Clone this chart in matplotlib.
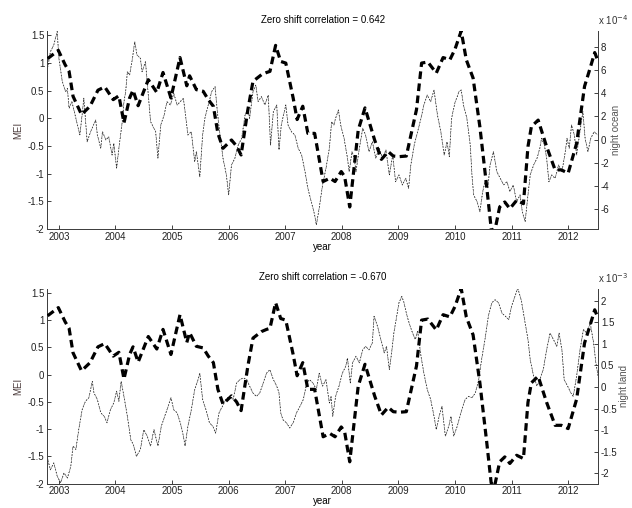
import matplotlib
matplotlib.use("Agg")
import matplotlib.pyplot as plt
from matplotlib.ticker import FormatStrFormatter, FuncFormatter
import numpy as np

plt.rcParams['font.family'] = ['Liberation Sans', 'DejaVu Sans']
plt.rcParams['font.size'] = 7

# MEI index (left axis, same in both panels)
mei_t = [2002.80, 2002.99, 2003.11, 2003.18, 2003.25, 2003.40, 2003.55, 2003.69,
         2003.81, 2003.96, 2004.06, 2004.15, 2004.25, 2004.31, 2004.40, 2004.58,
         2004.73, 2004.84, 2004.98, 2005.14, 2005.26, 2005.31, 2005.43, 2005.55,
         2005.64, 2005.73, 2005.81, 2005.90, 2006.05, 2006.14, 2006.22, 2006.34,
         2006.43, 2006.58, 2006.67, 2006.73, 2006.83, 2006.92, 2007.01, 2007.14,
         2007.21, 2007.31, 2007.40, 2007.52, 2007.67, 2007.79, 2007.88, 2007.99,
         2008.05, 2008.14, 2008.29, 2008.41, 2008.58, 2008.70, 2008.82, 2008.91,
         2009.02, 2009.14, 2009.32, 2009.41, 2009.52, 2009.67, 2009.79, 2009.91,
         2010.00, 2010.11, 2010.20, 2010.32, 2010.44, 2010.56, 2010.64, 2010.70,
         2010.79, 2010.88, 2010.97, 2011.09, 2011.21, 2011.29, 2011.35, 2011.47,
         2011.62, 2011.77, 2011.88, 2012.00, 2012.15, 2012.29, 2012.38, 2012.47,
         2012.53]
mei = [1.08, 1.23, 0.97, 0.85, 0.40, 0.07, 0.22, 0.51,
       0.57, 0.34, 0.41, -0.08, 0.37, 0.51, 0.23, 0.70,
       0.47, 0.83, 0.37, 1.10, 0.59, 0.77, 0.52, 0.49,
       0.34, 0.22, -0.27, -0.54, -0.39, -0.50, -0.66, 0.16,
       0.67, 0.79, 0.83, 0.85, 1.32, 1.03, 1.00, 0.37,
       -0.02, 0.22, -0.27, -0.27, -1.14, -1.08, -1.14, -0.96,
       -1.05, -1.60, -0.21, 0.19, -0.39, -0.74, -0.60, -0.68,
       -0.69, -0.68, 0.16, 1.00, 1.02, 0.82, 1.10, 1.06,
       1.25, 1.58, 1.06, 0.73, -0.15, -1.23, -1.99, -2.05,
       -1.60, -1.51, -1.63, -1.48, -1.54, -0.51, -0.15, -0.03,
       -0.51, -0.93, -0.93, -0.99, -0.45, 0.58, 0.88, 1.19,
       1.03]

# night ocean (units of 1e-4)
ocean_t = [2002.79, 2002.85, 2002.91, 2002.97, 2003.00, 2003.06, 2003.12, 2003.15,
           2003.18, 2003.23, 2003.30, 2003.37, 2003.41, 2003.44, 2003.50, 2003.56,
           2003.65, 2003.68, 2003.74, 2003.77, 2003.83, 2003.88, 2003.94, 2003.97,
           2004.02, 2004.06, 2004.12, 2004.15, 2004.18, 2004.21, 2004.25, 2004.30,
           2004.34, 2004.38, 2004.44, 2004.47, 2004.53, 2004.59, 2004.62, 2004.68,
           2004.71, 2004.75, 2004.80, 2004.86, 2004.91, 2004.97, 2005.03, 2005.09,
           2005.15, 2005.20, 2005.23, 2005.28, 2005.34, 2005.40, 2005.43, 2005.49,
           2005.54, 2005.58, 2005.64, 2005.70, 2005.76, 2005.80, 2005.84, 2005.90,
           2005.96, 2006.00, 2006.05, 2006.11, 2006.17, 2006.23, 2006.29, 2006.34,
           2006.37, 2006.43, 2006.48, 2006.52, 2006.58, 2006.64, 2006.70, 2006.74,
           2006.79, 2006.85, 2006.89, 2006.93, 2007.01, 2007.05, 2007.11, 2007.17,
           2007.23, 2007.29, 2007.35, 2007.40, 2007.46, 2007.52, 2007.55, 2007.60,
           2007.66, 2007.72, 2007.78, 2007.82, 2007.86, 2007.89, 2007.94, 2007.98,
           2008.04, 2008.10, 2008.13, 2008.18, 2008.22, 2008.25, 2008.31, 2008.37,
           2008.42, 2008.48, 2008.54, 2008.60, 2008.66, 2008.72, 2008.78, 2008.84,
           2008.90, 2008.95, 2009.01, 2009.07, 2009.13, 2009.18, 2009.22, 2009.28,
           2009.34, 2009.40, 2009.45, 2009.51, 2009.57, 2009.63, 2009.69, 2009.75,
           2009.81, 2009.86, 2009.90, 2009.94, 2010.00, 2010.04, 2010.07, 2010.11,
           2010.15, 2010.21, 2010.24, 2010.27, 2010.30, 2010.33, 2010.39, 2010.44,
           2010.49, 2010.53, 2010.58, 2010.62, 2010.68, 2010.74, 2010.80, 2010.86,
           2010.92, 2010.97, 2011.03, 2011.09, 2011.15, 2011.19, 2011.24, 2011.29,
           2011.33, 2011.39, 2011.45, 2011.50, 2011.53, 2011.58, 2011.62, 2011.66,
           2011.71, 2011.77, 2011.83, 2011.89, 2011.95, 2011.98, 2012.02, 2012.06,
           2012.11, 2012.15, 2012.21, 2012.26, 2012.30, 2012.35, 2012.40, 2012.46,
           2012.52]
ocean = [5.85, 7.57, 8.15, 9.3, 7.0, 5.0, 4.13, 4.4,
         2.70, 3.27, 1.84, 0.40, 2.12, 3.56, -0.18, 0.68,
         1.69, 0.40, -0.74, 0.68, -0.03, 0.25, -1.32, -0.31,
         -2.46, -0.74, 1.55, 3.27, 4.13, 5.85, 5.56, 7.0,
         8.43, 7.29, 7.0, 5.85, 6.71, 3.27, 1.55, 0.98,
         0.68, -1.6, 1.26, 2.12, 3.27, 2.98, 3.99, 2.98,
         3.3, 3.56, 2.41, 0.40, 0.68, -1.9, -1.04, -3.19,
         0.40, 1.84, 2.98, 4.13, 4.56, 2.41, 0.68, -1.6,
         -3.04, -4.76, -2.18, -1.6, -0.46, 0.11, 2.12, 2.70,
         1.84, 4.13, 4.70, 3.27, 3.70, 2.98, 3.84, -0.46,
         2.41, 2.98, -0.89, 1.26, 2.98, 1.26, 0.68, 0.40,
         -0.74, -1.32, -2.76, -4.19, -5.34, -6.48, -7.34, -5.91,
         -3.90, -2.47, -0.74, 1.55, 1.26, 1.84, 2.55, 1.26,
         0.11, -1.6, -2.76, -1.04, -1.6, -2.76, -0.74, 0.98,
         0.40, -1.04, -0.18, -1.6, -0.74, -1.6, -0.89, -3.04,
         -1.32, -3.62, -3.04, -3.90, -3.33, -4.19, -2.18, -0.46,
         0.68, 1.84, 2.98, 3.84, 3.27, 4.27, 2.12, 0.68,
         -1.32, -0.18, -1.47, 1.84, 3.2, 3.70, 4.13, 4.27,
         2.98, 1.84, 0.68, -0.46, -3.04, -4.76, -5.34, -6.2,
         -4.48, -3.62, -4.19, -2.18, -1.04, -2.76, -3.33, -3.90,
         -3.62, -4.48, -3.90, -5.34, -4.76, -6.2, -7.06, -4.76,
         -3.04, -2.18, -1.6, -0.74, 0.11, -0.46, -1.6, -3.62,
         -3.04, -3.33, -2.18, -2.76, -1.04, 0.11, -0.74, 1.26,
         0.40, -1.32, 0.68, 2.41, 0.11, -1.04, 0.11, 0.68,
         0.40]

# night land (units of 1e-3)
land_t = [2002.79, 2002.85, 2002.91, 2002.97, 2003.03, 2003.09, 2003.15, 2003.21,
          2003.25, 2003.30, 2003.35, 2003.41, 2003.47, 2003.53, 2003.59, 2003.62,
          2003.68, 2003.74, 2003.80, 2003.85, 2003.91, 2003.97, 2004.02, 2004.06,
          2004.10, 2004.15, 2004.21, 2004.27, 2004.32, 2004.37, 2004.44, 2004.50,
          2004.56, 2004.62, 2004.68, 2004.75, 2004.81, 2004.87, 2004.93, 2004.98,
          2005.03, 2005.09, 2005.15, 2005.20, 2005.23, 2005.28, 2005.34, 2005.40,
          2005.46, 2005.49, 2005.54, 2005.60, 2005.66, 2005.72, 2005.77, 2005.83,
          2005.89, 2005.95, 2006.01, 2006.08, 2006.14, 2006.20, 2006.26, 2006.32,
          2006.37, 2006.43, 2006.49, 2006.55, 2006.61, 2006.67, 2006.73, 2006.79,
          2006.85, 2006.89, 2006.92, 2006.96, 2007.02, 2007.08, 2007.14, 2007.20,
          2007.26, 2007.32, 2007.38, 2007.43, 2007.49, 2007.55, 2007.60, 2007.66,
          2007.72, 2007.78, 2007.81, 2007.84, 2007.89, 2007.95, 2008.01, 2008.07,
          2008.10, 2008.15, 2008.19, 2008.25, 2008.31, 2008.37, 2008.42, 2008.48,
          2008.54, 2008.57, 2008.63, 2008.69, 2008.75, 2008.79, 2008.84, 2008.88,
          2008.92, 2008.97, 2009.01, 2009.06, 2009.10, 2009.14, 2009.19, 2009.25,
          2009.30, 2009.34, 2009.40, 2009.45, 2009.51, 2009.57, 2009.63, 2009.67,
          2009.72, 2009.77, 2009.83, 2009.89, 2009.93, 2009.98, 2010.04, 2010.12,
          2010.18, 2010.24, 2010.30, 2010.36, 2010.42, 2010.47, 2010.53, 2010.59,
          2010.65, 2010.71, 2010.77, 2010.83, 2010.89, 2010.95, 2011.00, 2011.06,
          2011.11, 2011.17, 2011.23, 2011.29, 2011.33, 2011.39, 2011.45, 2011.50,
          2011.56, 2011.62, 2011.68, 2011.74, 2011.80, 2011.84, 2011.89, 2011.93,
          2011.99, 2012.05, 2012.09, 2012.15, 2012.21, 2012.27, 2012.33, 2012.39,
          2012.45, 2012.49, 2012.54]
land = [-1.61, -1.92, -1.76, -2.07, -2.22, -1.99, -2.11, -1.84,
        -1.37, -1.45, -0.99, -0.53, -0.33, -0.25, 0.13, -0.14,
        -0.29, -0.60, -0.68, -0.83, -0.53, -0.37, -0.10, -0.33,
        0.13, -0.22, -0.68, -1.22, -1.35, -1.61, -1.45, -0.99,
        -1.14, -1.37, -0.99, -1.37, -0.91, -0.68, -0.45, -0.25,
        -0.53, -0.60, -0.85, -1.14, -1.37, -0.91, -0.53, -0.06,
        0.17, 0.32, -0.29, -0.53, -0.83, -0.91, -1.07, -0.60,
        -0.45, -0.29, -0.22, -0.29, 0.09, 0.17, 0.21, 0.17,
        0.02, -0.14, -0.22, -0.14, 0.09, 0.32, 0.40, 0.17,
        0.02, -0.14, -0.60, -0.76, -0.83, -0.95, -0.83, -0.60,
        -0.45, -0.29, 0.09, 0.17, 0.09, -0.06, 0.32, 0.02,
        0.17, -0.37, -0.22, -0.68, -0.22, 0.02, 0.32, 0.48,
        0.67, 0.09, 0.56, 0.71, 0.56, 0.86, 0.94, 0.86,
        1.02, 1.64, 1.41, 1.10, 0.79, 0.94, 0.40, 0.79,
        1.25, 1.64, 1.95, 2.10, 1.95, 1.71, 1.48, 1.25,
        1.10, 1.29, 0.71, 0.32, -0.06, -0.29, -0.68, -0.99,
        -0.68, -0.45, -1.14, -0.91, -0.68, -1.14, -0.91, -0.53,
        -0.29, -0.22, -0.25, -0.14, 0.17, 0.63, 1.10, 1.64,
        1.95, 2.02, 1.95, 1.71, 1.64, 1.56, 1.87, 2.10,
        2.29, 2.02, 1.56, 1.10, 0.63, 0.25, 0.02, 0.17,
        0.40, 0.86, 1.25, 1.10, 0.94, 1.25, 0.86, 0.17,
        0.02, -0.14, -0.22, 0.25, 0.86, 1.33, 1.25, 1.48,
        1.02, 0.56, 0.17]

years = list(range(2003, 2013))
left_ticks = [-2, -1.5, -1, -0.5, 0, 0.5, 1, 1.5]

panels = [
    dict(t=ocean_t, v=ocean, title="Zero shift correlation = 0.642",
         ylabel="night ocean", exp="-4", ylim=(-7.7, 9.35),
         ticks=[-6, -4, -2, 0, 2, 4, 6, 8], rect=[0.0744, 0.549, 0.872, 0.390]),
    dict(t=land_t, v=land, title="Zero shift correlation = -0.670",
         ylabel="night land", exp="-3", ylim=(-2.24, 2.28),
         ticks=[-2, -1.5, -1, -0.5, 0, 0.5, 1, 1.5, 2], rect=[0.0744, 0.048, 0.872, 0.384]),
]

fig = plt.figure(figsize=(6.32, 5.08), dpi=100)
spine_col = '#404040'

for p in panels:
    ax = fig.add_axes(p['rect'])
    ax2 = ax.twinx()

    ax.plot(mei_t, mei, color='black', lw=2.3, ls='--', dashes=(2.4, 1.4),
            dash_capstyle='butt', zorder=3)
    ax2.plot(p['t'], p['v'], color='#777777', lw=0.7, ls=':', zorder=2)
    ax2.plot(p['t'], p['v'], color='black', lw=0.35, ls='--', dashes=(4, 3), zorder=2)

    ax.set_zorder(ax2.get_zorder() + 1)
    ax.patch.set_visible(False)

    ax.set_xlim(2002.79, 2012.53)
    ax.set_ylim(-2, 1.58)
    ax2.set_ylim(*p['ylim'])
    ax.set_xticks(years)
    ax.set_yticks(left_ticks)
    ax.yaxis.set_major_formatter(FuncFormatter(lambda v, pos: '%g' % v))
    ax2.set_yticks(p['ticks'])
    ax2.yaxis.set_major_formatter(FuncFormatter(lambda v, pos: '%g' % v))

    for a in (ax, ax2):
        a.tick_params(direction='in', length=3, width=0.6, colors='#222222',
                      labelsize=7, pad=2)
        a.spines['top'].set_visible(False)
        for s in a.spines.values():
            s.set_color(spine_col)
            s.set_linewidth(0.7)

    ax.set_title(p['title'], fontsize=7, pad=6)
    ax.set_xlabel("year", fontsize=7, labelpad=0)
    ax.set_ylabel("MEI", fontsize=7, color='#4a3a3a', labelpad=3)
    ax2.set_ylabel(p['ylabel'], fontsize=7, color='#555555', labelpad=1)
    ax2.text(1.0, 1.02, "x 10$^{%s}$" % p['exp'], transform=ax2.transAxes,
             fontsize=7, ha='left', va='bottom', color='#333333')

fig.savefig("out.png", dpi=100)
